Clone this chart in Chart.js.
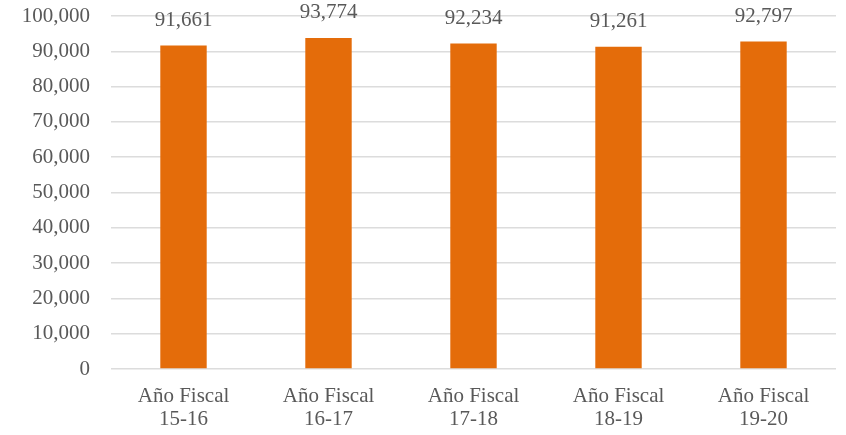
<!DOCTYPE html>
<html>
<head>
<meta charset="utf-8">
<script src="https://cdn.jsdelivr.net/npm/chart.js@4/dist/chart.umd.min.js"></script>
<style>
  html, body { margin: 0; padding: 0; background: #fff; }
  #wrap { width: 846px; height: 435px; }
</style>
</head>
<body>
<div id="wrap"><canvas id="grafico" width="846" height="435"></canvas></div>
<script>
const categorias = [
  ["Año Fiscal", "15-16"],
  ["Año Fiscal", "16-17"],
  ["Año Fiscal", "17-18"],
  ["Año Fiscal", "18-19"],
  ["Año Fiscal", "19-20"]
];
const valores = [91661, 93774, 92234, 91261, 92797];

const fuente = "'Liberation Serif', 'DejaVu Serif', serif";
const gris = "#595959";

// etiquetas encima de cada barra
const etiquetas = {
  id: "etiquetas",
  afterDatasetsDraw(chart) {
    const ctx = chart.ctx;
    const meta = chart.getDatasetMeta(0);
    ctx.save();
    ctx.font = "21px " + fuente;
    ctx.fillStyle = gris;
    ctx.textAlign = "center";
    ctx.textBaseline = "middle";
    meta.data.forEach((bar, i) => {
      ctx.fillText(valores[i].toLocaleString("en-US"), bar.x, bar.y - 25);
    });
    ctx.restore();
  }
};

const ctx = document.getElementById("grafico").getContext("2d");

new Chart(ctx, {
  type: "bar",
  data: {
    labels: categorias,
    datasets: [{
      data: valores,
      backgroundColor: "#E46C0A",
      categoryPercentage: 1,
      barPercentage: 0.32
    }]
  },
  options: {
    responsive: false,
    animation: false,
    layout: { padding: { top: 16, right: 10, left: 0, bottom: 0 } },
    plugins: {
      legend: { display: false },
      tooltip: { enabled: false }
    },
    scales: {
      x: {
        grid: { display: false, drawTicks: false },
        border: { display: false },
        ticks: {
          color: gris,
          font: { family: fuente, size: 21, lineHeight: 1.1 },
          padding: 16,
          maxRotation: 0
        },
        afterFit(axis) { axis.height = 66; }
      },
      y: {
        min: 0,
        max: 100000,
        grid: { color: "#dcdcdc", lineWidth: 1.5, drawTicks: false },
        border: { display: false },
        ticks: {
          stepSize: 10000,
          color: gris,
          font: { family: fuente, size: 21 },
          padding: 21,
          callback: v => v.toLocaleString("en-US")
        },
        afterFit(axis) {
          axis.width = 111;
          axis.paddingTop = 0;
          axis.paddingBottom = 0;
        }
      }
    }
  },
  plugins: [etiquetas]
});
</script>
</body>
</html>
